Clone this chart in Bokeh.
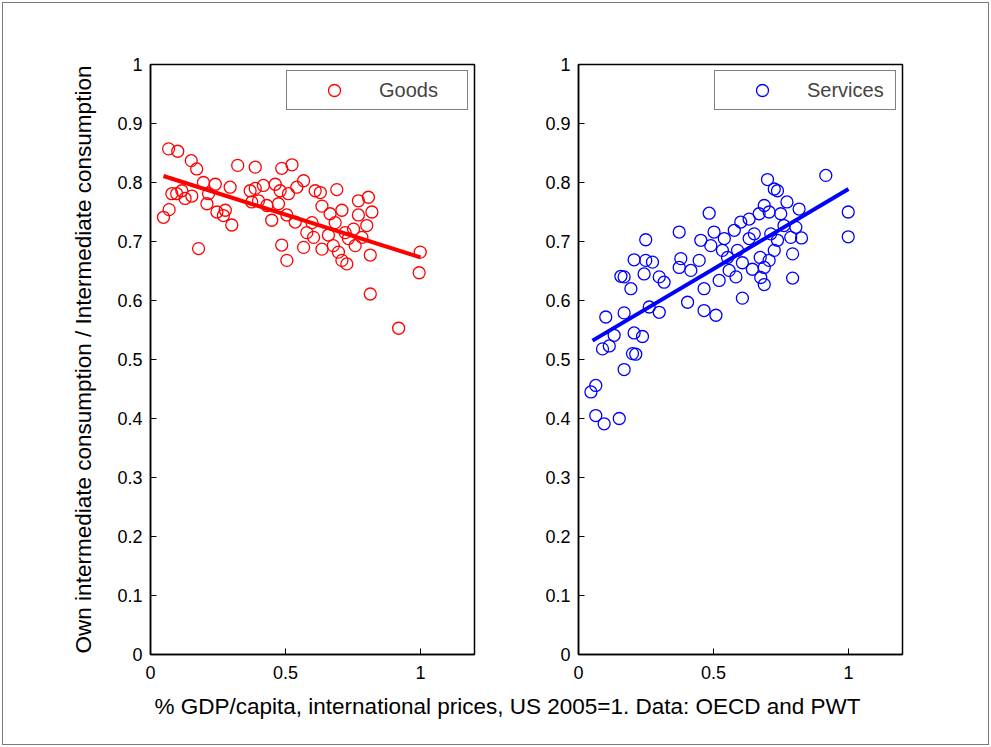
from bokeh.plotting import figure
from bokeh.layouts import column, row
from bokeh.models import Range1d, FixedTicker, Legend, LegendItem, Label, ColumnDataSource
from bokeh.embed import file_html
from bokeh.resources import INLINE

# ---------------- data ----------------
goods_x = [0.067, 0.101, 0.151, 0.171, 0.323, 0.388, 0.486, 0.524, 0.567, 0.690,
           0.770, 0.807, 0.820, 0.770, 0.801, 0.999, 0.995, 0.814, 0.814, 0.919,
           0.178, 0.048, 0.069, 0.097, 0.116, 0.128, 0.196, 0.215, 0.240, 0.209,
           0.246, 0.270, 0.301, 0.295, 0.277, 0.369, 0.388, 0.418, 0.462, 0.480,
           0.511, 0.474, 0.449, 0.505, 0.486, 0.505, 0.375, 0.542, 0.610, 0.629,
           0.635, 0.598, 0.579, 0.567, 0.604, 0.635, 0.665, 0.684, 0.709, 0.659,
           0.677, 0.696, 0.709, 0.727, 0.733, 0.752, 0.758, 0.783, 0.721, 0.153,
           0.079, 0.431, 0.400, 0.536]
goods_y = [0.857, 0.853, 0.837, 0.823, 0.829, 0.826, 0.824, 0.830, 0.803, 0.788,
           0.769, 0.775, 0.750, 0.745, 0.727, 0.682, 0.647, 0.677, 0.611, 0.553,
           0.688, 0.741, 0.754, 0.781, 0.786, 0.773, 0.800, 0.781, 0.797, 0.764,
           0.750, 0.744, 0.728, 0.792, 0.753, 0.786, 0.790, 0.795, 0.797, 0.786,
           0.781, 0.764, 0.736, 0.745, 0.694, 0.668, 0.767, 0.792, 0.786, 0.783,
           0.760, 0.732, 0.715, 0.690, 0.707, 0.687, 0.747, 0.732, 0.753, 0.711,
           0.693, 0.682, 0.668, 0.662, 0.705, 0.721, 0.693, 0.707, 0.715, 0.777,
           0.781, 0.761, 0.769, 0.733]
goods_fit_x = [0.048, 1.0]
goods_fit_y = [0.811, 0.673]

serv_x = [0.916, 0.999, 0.999, 0.700, 0.725, 0.737, 0.772, 0.817, 0.688, 0.669,
          0.749, 0.484, 0.373, 0.249, 0.502, 0.453, 0.540, 0.577, 0.601, 0.632,
          0.651, 0.632, 0.712, 0.737, 0.786, 0.826, 0.805, 0.793, 0.793, 0.725,
          0.706, 0.688, 0.675, 0.688, 0.644, 0.607, 0.583, 0.558, 0.533, 0.521,
          0.490, 0.447, 0.379, 0.373, 0.416, 0.465, 0.607, 0.404, 0.465, 0.509,
          0.206, 0.249, 0.274, 0.243, 0.157, 0.169, 0.194, 0.299, 0.317, 0.101,
          0.169, 0.262, 0.299, 0.206, 0.237, 0.132, 0.089, 0.114, 0.200, 0.212,
          0.169, 0.064, 0.046, 0.064, 0.095, 0.151, 0.552, 0.589, 0.673, 0.761,
          0.706]
serv_y = [0.812, 0.750, 0.708, 0.805, 0.789, 0.786, 0.767, 0.755, 0.761, 0.747,
          0.747, 0.748, 0.716, 0.703, 0.716, 0.702, 0.705, 0.719, 0.733, 0.738,
          0.713, 0.705, 0.713, 0.702, 0.707, 0.706, 0.724, 0.679, 0.638, 0.685,
          0.668, 0.656, 0.639, 0.627, 0.653, 0.664, 0.640, 0.651, 0.685, 0.634,
          0.693, 0.668, 0.671, 0.656, 0.651, 0.620, 0.604, 0.597, 0.583, 0.575,
          0.669, 0.668, 0.665, 0.645, 0.641, 0.640, 0.620, 0.640, 0.631, 0.572,
          0.579, 0.589, 0.580, 0.545, 0.539, 0.541, 0.518, 0.523, 0.510, 0.509,
          0.483, 0.456, 0.445, 0.405, 0.391, 0.400, 0.673, 0.685, 0.673, 0.727,
          0.750]
serv_fit_x = [0.052, 1.0]
serv_fit_y = [0.532, 0.789]

y_ticks = [0, 0.1, 0.2, 0.3, 0.4, 0.5, 0.6, 0.7, 0.8, 0.9, 1]
y_tick_labels = ["0", "0.1", "0.2", "0.3", "0.4", "0.5", "0.6", "0.7", "0.8", "0.9", "1"]
x_ticks = [0, 0.5, 1]
x_tick_labels = ["0", "0.5", "1"]

y_label = "Own intermediate consumption / Intermediate consumption"
x_label = "% GDP/capita, international prices, US 2005=1. Data: OECD and PWT"

FONT = "Liberation Sans"
TICK_SIZE = "18px"


def make_panel(xs, ys, fx, fy, color, name, width, left, right, show_ylabel):
    p = figure(width=width, height=690, x_range=Range1d(0, 1.2), y_range=Range1d(0, 1),
               toolbar_location=None, output_backend="svg",
               min_border_left=left, min_border_right=right,
               min_border_top=64, min_border_bottom=36)
    p.background_fill_color = "white"
    p.border_fill_color = None
    p.outline_line_color = "black"
    p.outline_line_width = 1.5
    p.xgrid.visible = False
    p.ygrid.visible = False
    for ax in (p.xaxis[0], p.yaxis[0]):
        ax.axis_line_color = "black"
        ax.axis_line_width = 1.5
        ax.major_tick_in = 6
        ax.major_tick_out = 0
        ax.major_tick_line_color = "black"
        ax.minor_tick_line_color = None
        ax.major_label_text_font = FONT
        ax.major_label_text_font_size = TICK_SIZE
        ax.major_label_text_color = "black"
    p.yaxis[0].ticker = FixedTicker(ticks=y_ticks)
    p.yaxis[0].major_label_overrides = {t: l for t, l in zip(y_ticks, y_tick_labels)}
    p.xaxis[0].ticker = FixedTicker(ticks=x_ticks)
    p.xaxis[0].major_label_overrides = {t: l for t, l in zip(x_ticks, x_tick_labels)}
    p.yaxis[0].major_label_standoff = 8
    p.xaxis[0].major_label_standoff = 11
    if show_ylabel:
        p.yaxis[0].axis_label = y_label
        p.yaxis[0].axis_label_text_font = FONT
        p.yaxis[0].axis_label_text_font_size = "22.5px"
        p.yaxis[0].axis_label_text_font_style = "normal"
        p.yaxis[0].axis_label_text_color = "black"
        p.yaxis[0].axis_label_standoff = 18

    src = ColumnDataSource(dict(x=xs, y=ys))
    r = p.scatter("x", "y", source=src, marker="circle", size=12,
                  fill_color=None, line_color=color, line_width=1.3)
    p.line(fx, fy, line_color=color, line_width=4)

    legend = Legend(items=[LegendItem(label=name, renderers=[r])],
                    location="top_right", margin=6, padding=4,
                    glyph_width=86, glyph_height=30, label_standoff=2,
                    label_width=84, label_height=30,
                    border_line_color="black", border_line_width=1.2,
                    label_text_font=FONT, label_text_font_size="20px",
                    background_fill_alpha=1.0)
    p.add_layout(legend)
    return p


p1 = make_panel(goods_x, goods_y, goods_fit_x, goods_fit_y, "red", "Goods",
                520, 150, 46, True)
p2 = make_panel(serv_x, serv_y, serv_fit_x, serv_fit_y, "blue", "Services",
                471, 58, 89, False)

p3 = figure(width=991, height=57, x_range=Range1d(0, 991), y_range=Range1d(0, 57),
            toolbar_location=None, output_backend="svg", min_border=0)
p3.axis.visible = False
p3.grid.visible = False
p3.outline_line_color = None
p3.border_fill_color = None
p3.background_fill_color = None
p3.add_layout(Label(x=507, y=54, x_units="screen", y_units="screen", text=x_label,
                    text_align="center", text_baseline="top",
                    text_font=FONT, text_font_size="22.5px", text_color="black"))

layout = column(row(p1, p2), p3,
                styles={"outline": "1px solid #7a7a7a", "outline-offset": "-3px"})

open("out.html", "w").write(file_html(layout, INLINE))
